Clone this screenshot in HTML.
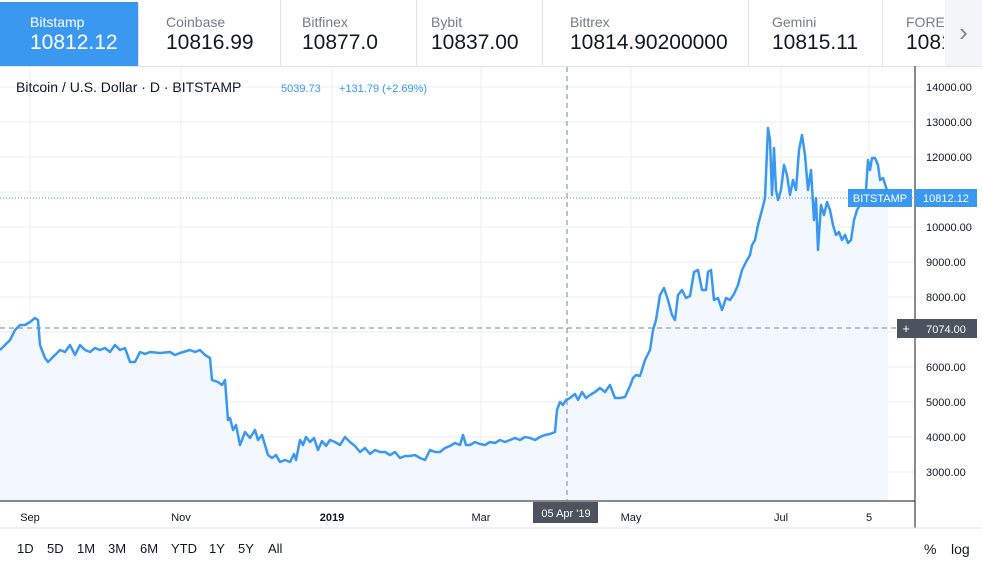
<!DOCTYPE html>
<html><head><style>
body{margin:0;width:982px;height:568px;overflow:hidden;background:#fff;font-family:"Liberation Sans",sans-serif;}
.top{position:absolute;left:0;top:0;width:982px;height:66px;border-bottom:1px solid #e0e3eb;}
.tab{position:absolute;top:0;height:66px;border-right:1px solid #e0e3eb;}
.tab .n{position:absolute;left:28px;top:14px;font-size:14px;color:#787b86;}
.tab .p{position:absolute;left:28px;top:31px;font-size:21px;color:#131722;}
.act{background:#3a98f0;}
.act .n,.act .p{color:#fff;}
.tb{position:absolute;top:541px;font-size:13px;color:#131722;}
</style></head><body>
<div class="top">
<div class="tab act" style="left:0;width:138px;margin-top:2px;height:64px"><div class="n" style="left:30px;top:12px">Bitstamp</div><div class="p" style="left:30px;top:29px">10812.12</div></div>
<div class="tab" style="left:138px;width:142px"><div class="n" style="left:28px">Coinbase</div><div class="p" style="left:28px">10816.99</div></div>
<div class="tab" style="left:280px;width:136px"><div class="n" style="left:22px">Bitfinex</div><div class="p" style="left:22px">10877.0</div></div>
<div class="tab" style="left:416px;width:126px"><div class="n" style="left:15px">Bybit</div><div class="p" style="left:15px">10837.00</div></div>
<div class="tab" style="left:542px;width:206px"><div class="n" style="left:28px">Bittrex</div><div class="p" style="left:28px">10814.90200000</div></div>
<div class="tab" style="left:748px;width:134px"><div class="n" style="left:24px">Gemini</div><div class="p" style="left:24px">10815.11</div></div>
<div class="tab" style="left:882px;width:62px;overflow:hidden;border:none"><div class="n" style="left:24px">FOREX</div><div class="p" style="left:24px">1081</div></div>
<div style="position:absolute;left:945px;top:0;width:37px;height:66px;background:#f4f5f8;color:#888;font-size:26px;text-align:center;line-height:64px">›</div>
</div>
<svg style="position:absolute;left:0;top:0" width="982" height="568">
<g stroke="#e8eef5" stroke-width="1">
<line x1="30" y1="67" x2="30" y2="500"/><line x1="181" y1="67" x2="181" y2="500"/><line x1="332" y1="67" x2="332" y2="500"/><line x1="481" y1="67" x2="481" y2="500"/><line x1="631" y1="67" x2="631" y2="500"/><line x1="781" y1="67" x2="781" y2="500"/><line x1="869" y1="67" x2="869" y2="500"/>
<line x1="0" y1="87" x2="915" y2="87"/><line x1="0" y1="122" x2="915" y2="122"/><line x1="0" y1="157" x2="915" y2="157"/><line x1="0" y1="192" x2="915" y2="192"/><line x1="0" y1="227" x2="915" y2="227"/><line x1="0" y1="262" x2="915" y2="262"/><line x1="0" y1="297" x2="915" y2="297"/><line x1="0" y1="332" x2="915" y2="332"/><line x1="0" y1="367" x2="915" y2="367"/><line x1="0" y1="402" x2="915" y2="402"/><line x1="0" y1="437" x2="915" y2="437"/><line x1="0" y1="472" x2="915" y2="472"/>
</g>
<path fill="#f2f8fd" stroke="none" d="M0,350 L5,345 10,340 15,330 20,325 25,325 30,322 35,318 38,320 40,345 45,358 48,362 55,355 60,350 65,352 70,345 75,355 80,345 85,350 90,352 95,348 100,350 105,348 110,352 115,345 120,350 125,348 130,362 135,362 140,352 145,354 150,352 160,353 170,352 175,355 180,353 190,350 195,352 200,350 205,355 210,358 212,380 218,382 222,385 225,380 228,420 230,418 233,430 236,425 240,445 242,440 245,432 250,438 255,430 258,440 262,435 265,445 268,455 272,458 276,455 280,462 285,460 290,462 294,454 296,460 300,440 303,445 306,437 310,442 314,438 318,450 322,441 326,446 330,440 335,442 340,445 345,437 350,442 355,446 360,452 365,448 370,454 375,450 380,452 385,452 390,455 395,452 400,458 405,456 410,456 415,455 420,458 425,460 430,450 435,452 440,452 445,448 450,446 455,443 460,445 463,435 466,445 470,445 475,442 480,444 485,445 490,442 495,443 500,440 505,442 510,440 515,438 520,440 525,437 530,438 535,440 540,437 545,435 550,434 555,432 557,410 560,402 563,405 566,400 570,398 575,394 578,400 582,392 586,398 590,395 595,392 600,388 605,392 610,385 615,398 620,398 625,397 630,386 633,378 636,375 640,376 645,360 650,350 653,330 656,320 660,295 664,288 668,300 672,315 675,320 678,295 682,290 686,298 690,296 694,272 698,270 702,290 706,290 708,272 711,270 714,300 718,298 722,310 726,298 730,300 734,294 738,285 742,270 746,262 750,255 752,245 755,240 758,225 762,210 765,198 768,128 770,140 772,195 774,148 776,190 778,200 781,190 784,165 787,175 790,195 793,180 796,190 799,150 802,135 805,155 808,190 811,170 814,220 816,198 818,250 821,205 824,215 827,202 830,210 833,225 836,235 839,232 842,240 845,235 848,243 851,240 854,220 857,210 860,205 863,200 866,190 868,160 870,170 872,158 875,158 878,165 880,180 883,178 886,187 888,195 L888,500 L0,500 Z"/>
<line x1="567" y1="67" x2="567" y2="500" stroke="#758696" stroke-dasharray="5,4"/>
<line x1="0" y1="328" x2="915" y2="328" stroke="#758696" stroke-dasharray="5,4"/>
<line x1="0" y1="198" x2="915" y2="198" stroke="#3a98f0" stroke-dasharray="1,2"/>
<polyline fill="none" stroke="#3a98f0" stroke-width="2.5" stroke-linejoin="round" points="0,350 5,345 10,340 15,330 20,325 25,325 30,322 35,318 38,320 40,345 45,358 48,362 55,355 60,350 65,352 70,345 75,355 80,345 85,350 90,352 95,348 100,350 105,348 110,352 115,345 120,350 125,348 130,362 135,362 140,352 145,354 150,352 160,353 170,352 175,355 180,353 190,350 195,352 200,350 205,355 210,358 212,380 218,382 222,385 225,380 228,420 230,418 233,430 236,425 240,445 242,440 245,432 250,438 255,430 258,440 262,435 265,445 268,455 272,458 276,455 280,462 285,460 290,462 294,454 296,460 300,440 303,445 306,437 310,442 314,438 318,450 322,441 326,446 330,440 335,442 340,445 345,437 350,442 355,446 360,452 365,448 370,454 375,450 380,452 385,452 390,455 395,452 400,458 405,456 410,456 415,455 420,458 425,460 430,450 435,452 440,452 445,448 450,446 455,443 460,445 463,435 466,445 470,445 475,442 480,444 485,445 490,442 495,443 500,440 505,442 510,440 515,438 520,440 525,437 530,438 535,440 540,437 545,435 550,434 555,432 557,410 560,402 563,405 566,400 570,398 575,394 578,400 582,392 586,398 590,395 595,392 600,388 605,392 610,385 615,398 620,398 625,397 630,386 633,378 636,375 640,376 645,360 650,350 653,330 656,320 660,295 664,288 668,300 672,315 675,320 678,295 682,290 686,298 690,296 694,272 698,270 702,290 706,290 708,272 711,270 714,300 718,298 722,310 726,298 730,300 734,294 738,285 742,270 746,262 750,255 752,245 755,240 758,225 762,210 765,198 768,128 770,140 772,195 774,148 776,190 778,200 781,190 784,165 787,175 790,195 793,180 796,190 799,150 802,135 805,155 808,190 811,170 814,220 816,198 818,250 821,205 824,215 827,202 830,210 833,225 836,235 839,232 842,240 845,235 848,243 851,240 854,220 857,210 860,205 863,200 866,190 868,160 870,170 872,158 875,158 878,165 880,180 883,178 886,187 888,195"/>
<line x1="915" y1="66" x2="915" y2="528" stroke="#131722"/>
<line x1="0" y1="501" x2="915" y2="501" stroke="#131722"/>
<line x1="0" y1="528" x2="982" y2="528" stroke="#e0e3eb"/>
<g font-size="11" fill="#131722" font-family="Liberation Sans">
<text x="926" y="91">14000.00</text><text x="926" y="126">13000.00</text><text x="926" y="161">12000.00</text><text x="926" y="231">10000.00</text><text x="926" y="266">9000.00</text><text x="926" y="301">8000.00</text><text x="926" y="371">6000.00</text><text x="926" y="406">5000.00</text><text x="926" y="441">4000.00</text><text x="926" y="476">3000.00</text>
<text x="30" y="521" text-anchor="middle">Sep</text><text x="181" y="521" text-anchor="middle">Nov</text><text x="332" y="521" text-anchor="middle" font-weight="bold">2019</text><text x="481" y="521" text-anchor="middle">Mar</text><text x="631" y="521" text-anchor="middle">May</text><text x="781" y="521" text-anchor="middle">Jul</text><text x="869" y="521" text-anchor="middle">5</text>
</g>
<rect x="848" y="189" width="64" height="18" fill="#3a98f0"/><text x="880" y="202" font-size="11" fill="#fff" text-anchor="middle">BITSTAMP</text>
<rect x="915" y="189" width="62" height="18" fill="#3a98f0"/><text x="946" y="202" font-size="11" fill="#fff" text-anchor="middle">10812.12</text>
<rect x="897" y="319" width="80" height="19" fill="#4c525e"/><text x="906" y="333" font-size="13" fill="#fff" text-anchor="middle">+</text><text x="946" y="333" font-size="11" fill="#fff" text-anchor="middle">7074.00</text>
<rect x="533" y="502" width="65" height="21" fill="#4c525e"/><text x="566" y="517" font-size="11" fill="#fff" text-anchor="middle">05 Apr '19</text>
<text x="16" y="92" font-size="14" fill="#131722">Bitcoin / U.S. Dollar · D · BITSTAMP</text>
<text x="281" y="92" font-size="11" fill="#3a98f0">5039.73</text><text x="339" y="92" font-size="11" fill="#3a98f0">+131.79 (+2.69%)</text>
</svg>
<div class="tb" style="left:17px">1D</div><div class="tb" style="left:47px">5D</div><div class="tb" style="left:77px">1M</div><div class="tb" style="left:108px">3M</div><div class="tb" style="left:140px">6M</div><div class="tb" style="left:171px">YTD</div><div class="tb" style="left:209px">1Y</div><div class="tb" style="left:238px">5Y</div><div class="tb" style="left:268px">All</div>
<div class="tb" style="left:924px;font-size:14px">%</div><div class="tb" style="left:951px;font-size:14px">log</div>
</body></html>
